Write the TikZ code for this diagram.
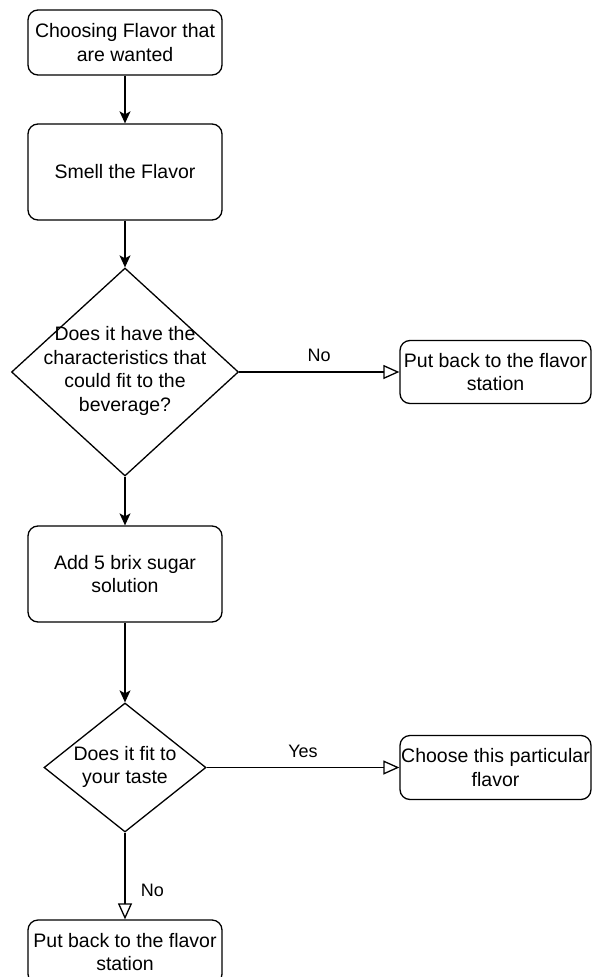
\documentclass[tikz,border=0pt]{standalone}
\usepackage{fontspec}
\setmainfont{Liberation Sans}
\usetikzlibrary{shapes.geometric,arrows.meta}
\begin{document}
\begin{tikzpicture}[x=1pt,y=-1pt,
  txt/.style={font=\fontsize{19.5}{23.5}\selectfont, align=center},
  box/.style={draw, line width=1.3pt, rounded corners=10pt, inner sep=0pt, txt},
  dia/.style={draw, diamond, line width=1.3pt, inner sep=0pt},
  lbl/.style={font=\fontsize{18}{22}\selectfont},
  flow/.style={line width=1.3pt, -{Stealth[length=12pt,width=11pt,inset=3pt]}},
  branch/.style={line width=1.3pt, -{Triangle[open,length=16pt,width=14pt,fill=white]}}
]
\clip (0,0) rectangle (592,977);
\useasboundingbox (0,0) rectangle (592,977);

\node[box, minimum width=194pt, minimum height=65pt] (b1) at (125,42.5) {Choosing Flavor that\\are wanted};
\node[box, minimum width=194pt, minimum height=96pt] (b2) at (125,172) {Smell the Flavor};
\node[dia, minimum width=227pt, minimum height=208pt] (d1) at (125,372) {};
\node[txt] (d1t) at (125,371) {Does it have the\\characteristics that\\could fit to the\\beverage?};
\node[box, minimum width=191pt, minimum height=63pt] (r1) at (495.5,372) {Put back to the flavor\\station};
\node[box, minimum width=194pt, minimum height=96pt] (b3) at (125,574) {Add 5 brix sugar\\solution};
\node[dia, minimum width=162pt, minimum height=129pt] (d2) at (125,767.5) {};
\node[txt] (d2t) at (125,767) {Does it fit to\\your taste};
\node[box, minimum width=191pt, minimum height=64pt] (r2) at (495.5,767.5) {Choose this particular\\flavor};
\node[box, minimum width=194pt, minimum height=64pt] (b4) at (125,952) {Put back to the flavor\\station};

\draw[flow] (b1.south) -- (b2.north);
\draw[flow] (b2.south) -- (d1.north);
\draw[branch] (d1.east) -- node[lbl, above=6pt, pos=0.5] (l1) {No} (r1.west);
\draw[flow] (d1.south) -- (b3.north);
\draw[flow] (b3.south) -- (d2.north);
\draw[branch] (d2.east) -- node[lbl, above=6pt, pos=0.5] (l2) {Yes} (r2.west);
\draw[branch] (d2.south) -- node[lbl, right=12pt, pos=0.67] (l3) {No} (b4.north);
\end{tikzpicture}
\end{document}
